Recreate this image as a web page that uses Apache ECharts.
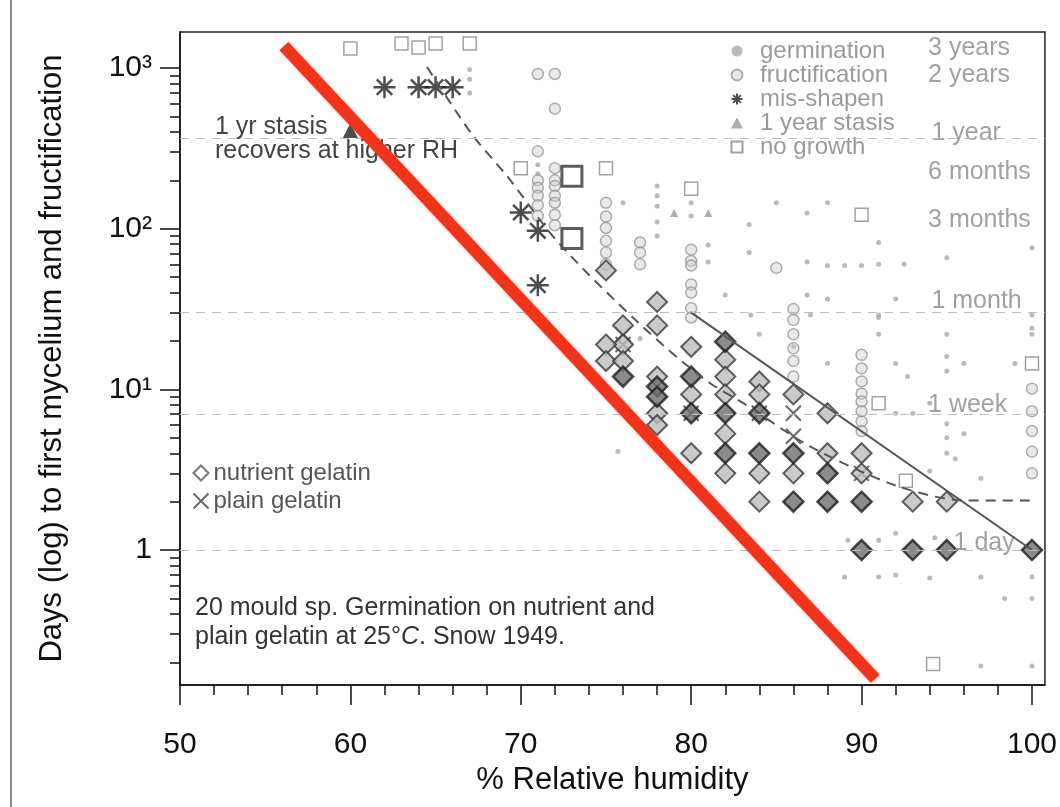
<!DOCTYPE html>
<html>
<head>
<meta charset="utf-8">
<title>Mould germination vs relative humidity</title>
<script src="https://cdn.jsdelivr.net/npm/echarts@6.0.0/dist/echarts.min.js"></script>
<style>
  html, body { margin: 0; padding: 0; background: #fff; }
  #chart { width: 1060px; height: 807px; }
</style>
</head>
<body>
<div id="chart"></div>
<script>
  // [RH %, days]
  var germination = [
    [67, 980], [67, 850], [67, 700], [71, 250], [71, 220],
    [76, 145], [83.4, 106], [85, 145], [86.8, 125], [88, 145], [91, 82],
    [86.8, 62], [88, 59], [89, 59], [90, 59], [91, 60], [92.5, 60], [95, 66], [100, 76],
    [83.4, 71], [81, 79], [81, 62], [82, 38.6], [86.8, 38.6], [88, 36.5], [92, 36.5],
    [83.5, 29], [87, 29], [91, 29], [84, 22], [86, 18.5], [88, 14.5], [91, 22], [77, 20.7],
    [91, 28], [95, 22], [95, 16], [95, 13], [96, 14.5], [92, 14.5], [92.7, 12],
    [92, 7.1], [93, 7.1], [94, 8.2], [95, 6.1], [95, 5], [95, 4], [96, 5.3], [95.5, 3.7],
    [97, 2.8], [94, 3.1], [89.2, 1.15], [91, 1.15], [92, 1.27], [94.3, 1.19],
    [89, 0.68], [91, 0.68], [92, 0.7], [94, 0.67], [97, 0.68], [100, 0.68],
    [98.4, 0.5], [100, 0.5], [97, 0.19], [100, 0.19],
    [100, 29], [100, 24], [100, 22], [99, 14.5],
    [78, 184], [78, 160], [78, 138], [78, 110], [78, 90], [80, 145], [80, 120], [75.7, 4.1]
  ];
  var fructification = [
    [71, 918], [72, 918], [72, 558], [71, 303],
    [71, 200], [71, 180], [71, 160], [71, 140], [71, 120],
    [72, 238], [72, 200], [72, 184], [72, 160], [72, 145], [72, 122], [72, 105],
    [75, 145], [75, 119], [75, 101], [75, 84], [75, 71], [75, 60],
    [77, 82], [77, 71], [77, 60],
    [80, 74], [80, 63], [80, 59], [80, 45], [80, 40], [80, 32], [80, 28],
    [85, 57], [86, 31.6], [86, 27], [86, 22], [86, 18], [86, 15], [86, 12],
    [90, 16.4], [90, 13.5], [90, 11.2], [90, 9.4], [90, 8.4], [90, 7.3], [90, 6.3], [90, 5.5],
    [100, 10.1], [100, 7.3], [100, 5.5], [100, 4.1], [100, 3]
  ];
  var misShapen = [[62, 760], [64, 760], [65, 760], [66, 760], [70, 126], [71, 97], [71, 44.5]];
  var stasis = [[79, 125], [81, 125]];
  var stasisRecovered = [60, 408];
  var noGrowth = [
    [60, 1320], [63, 1420], [64, 1340], [65, 1420], [67, 1420], [70, 238], [75, 238],
    [80, 177], [90, 122], [91, 8.2], [92.6, 2.7], [94.2, 0.195], [100, 14.5]
  ];
  var noGrowthMany = [[73, 212], [73, 87]];
  var nutrient = [
    [75, 55], [78, 35], [78, 25], [76, 25], [76, 19], [75, 19], [75, 15], [76, 15], [78, 12],
    [78, 7.1], [78, 6], [80, 18.4], [80, 9.3], [80, 4], [82, 15.3], [82, 12], [82, 9.3],
    [82, 5.3], [82, 3], [84, 11.2], [84, 9.3], [84, 3], [84, 2], [86, 9.3], [86, 3],
    [88, 7.1], [88, 4], [90, 4], [90, 3], [93, 2], [95, 2]
  ];
  var nutrientMany = [
    [76, 12], [78, 10.4], [78, 9], [80, 12], [80, 7.1], [82, 19.8], [82, 7.1], [82, 4],
    [84, 7.1], [84, 4], [86, 4], [86, 2], [88, 3], [88, 2], [90, 2], [90, 1],
    [93, 1], [95, 1], [100, 1]
  ];
  var plain = [[76, 22], [86, 7.1], [86, 5.1], [76, 19], [80, 7.1], [84, 7.1], [90, 3]];
  var fitSolid = [[80, 30], [100, 1]];
  var fitDashed = [
    [64.5, 1014], [67.1, 391], [69.2, 212], [72.2, 82], [76.9, 26], [80.7, 11.7],
    [83.3, 7.9], [87, 4.4], [92.1, 2.5], [96.2, 2.03], [100, 2.03]
  ];
  var redLine = [[56.1, 1368], [90.8, 0.158]];

  var refDays = [365, 30, 7, 1];
  var durNames = ['3 years', '2 years', '1 year', '6 months', '3 months', '1 month', '1 week', '1 day'];
  var durDays = [1095, 730, 365, 182, 91, 30, 7, 1];
  var durX = [93.9, 93.9, 94.1, 93.9, 93.9, 94.1, 93.9, 95.4];
  // how far each duration label sits above its own level (px)
  var durLift = [-14, -15, -5, -15, -15, -12, -9, -7];

  var xMajor = [50, 60, 70, 80, 90, 100];
  var xMinor = [52, 54, 56, 58, 62, 64, 66, 68, 72, 74, 76, 78, 82, 84, 86, 88, 92, 94, 96, 98];
  var yMajor = [1, 10, 100, 1000];
  var yTickText = ['1', '10¹', '10²', '10³'];
  var yMinor = [0.2, 0.3, 0.4, 0.5, 0.6, 0.7, 0.8, 0.9, 2, 3, 4, 5, 6, 7, 8, 9,
    20, 30, 40, 50, 60, 70, 80, 90, 200, 300, 400, 500, 600, 700, 800, 900];

  var font = 'Liberation Sans, Arial, Helvetica, sans-serif';
  var crossPath = 'path://M0,0L10,10M10,0L0,10';
  var starPath = 'path://M5,0L5,10M0,5L10,5M1.5,1.5L8.5,8.5M8.5,1.5L1.5,8.5';
  var squarePath = 'path://M0,0L10,0L10,10L0,10Z';
  var trianglePath = 'path://M5,0L10,9L0,9Z';

  var chart = echarts.init(document.getElementById('chart'));
  chart.setOption({
    animation: false,
    textStyle: { fontFamily: font },
    grid: {
      left: 180, right: 12, top: 32, bottom: 122,
      show: true, borderColor: '#222', borderWidth: 1.5
    },
    legend: [{
      data: [
        { name: 'germination', icon: 'circle' },
        { name: 'fructification', icon: 'circle' },
        { name: 'mis-shapen' },
        { name: '1 year stasis', icon: trianglePath },
        { name: 'no growth', icon: squarePath }
      ],
      orient: 'vertical', left: 724, top: 34,
      itemWidth: 36, itemHeight: 11, itemGap: 0,
      symbolKeepAspect: true,
      selectedMode: false,
      textStyle: { color: '#9a9a9a', fontSize: 24, fontFamily: font }
    }, {
      data: [
        { name: 'nutrient gelatin', icon: 'diamond', itemStyle: { color: '#fff', borderColor: '#555', borderWidth: 2 } },
        'plain gelatin'
      ],
      orient: 'vertical', left: 186, top: 456,
      itemWidth: 15, itemHeight: 15, itemGap: 4,
      selectedMode: false,
      textStyle: { color: '#555', fontSize: 24, fontFamily: font }
    }],
    xAxis: [{
      type: 'value', min: 50, max: 100.76, position: 'bottom',
      axisLine: { show: true, lineStyle: { color: '#111', width: 1.5 } },
      axisTick: { show: true, length: 20, customValues: xMajor, lineStyle: { color: '#111', width: 1.5 } },
      axisLabel: { customValues: xMajor, margin: 45, fontSize: 30, color: '#111' },
      splitLine: { show: false },
      name: '% Relative humidity', nameLocation: 'middle', nameGap: 76,
      nameTextStyle: { fontSize: 31, color: '#111' }
    }, {
      type: 'value', min: 50, max: 100.76, position: 'bottom',
      axisLine: { show: false },
      axisTick: { show: true, length: 10, customValues: xMinor, lineStyle: { color: '#111', width: 1.5 } },
      axisLabel: { show: false },
      splitLine: { show: false }
    }],
    yAxis: [{
      type: 'log', min: 0.1445, max: 1675, position: 'left',
      axisLine: { show: true, lineStyle: { color: '#111', width: 1.5 } },
      axisTick: { show: true, length: 20, customValues: yMajor, lineStyle: { color: '#111', width: 1.5 } },
      axisLabel: {
        customValues: yMajor, margin: 28, fontSize: 30, color: '#111',
        formatter: function (v) {
          var best = 0;
          yMajor.forEach(function (m, i) {
            if (Math.abs(Math.log10(m) - Math.log10(v)) < Math.abs(Math.log10(yMajor[best]) - Math.log10(v))) best = i;
          });
          return yTickText[best];
        }
      },
      splitLine: { show: false },
      name: 'Days (log) to first mycelium and fructification',
      nameLocation: 'middle', nameRotate: 90, nameGap: 112,
      nameTextStyle: { fontSize: 31, color: '#111' }
    }, {
      type: 'log', min: 0.1445, max: 1675, position: 'left',
      axisLine: { show: false },
      axisTick: { show: true, length: 10, customValues: yMinor, lineStyle: { color: '#111', width: 1.5 } },
      axisLabel: { show: false },
      splitLine: { show: false }
    }],
    graphic: [
      { type: 'line', shape: { x1: 11, y1: 0, x2: 11, y2: 807 }, style: { stroke: '#666', lineWidth: 1.5 } },
      { type: 'text', x: 215, y: 127, style: { text: '1 yr stasis', fontSize: 25, fontFamily: font, fill: '#444', verticalAlign: 'middle' } },
      { type: 'text', x: 215, y: 151, style: { text: 'recovers at higher RH', fontSize: 25, fontFamily: font, fill: '#444', verticalAlign: 'middle' } },
      { type: 'text', x: 195, y: 608, style: { text: '20 mould sp. Germination on nutrient and', fontSize: 25, fontFamily: font, fill: '#333', verticalAlign: 'middle' } },
      { type: 'text', x: 195, y: 637, style: {
          text: '{n|plain gelatin at 25°}{i|C}{n|. Snow 1949.}', verticalAlign: 'middle',
          rich: {
            n: { fontSize: 25, fontFamily: font, fill: '#333' },
            i: { fontSize: 25, fontFamily: font, fill: '#333', fontStyle: 'italic' }
          }
        } }
    ],
    series: [{
      name: 'germination', type: 'scatter', data: germination,
      symbol: 'circle', symbolSize: 5,
      itemStyle: { color: '#a9a9a9' },
      markLine: {
        silent: true, symbol: ['none', 'none'],
        label: { show: false },
        lineStyle: { color: '#bdbdbd', type: [9, 7], width: 1.2 },
        data: refDays.map(function (d) { return { yAxis: d }; })
      }
    }, {
      name: 'fructification', type: 'scatter', data: fructification,
      symbol: 'circle', symbolSize: 11,
      itemStyle: { color: 'rgba(205,205,205,0.55)', borderColor: '#9a9a9a', borderWidth: 1.5 }
    }, {
      name: '1 year stasis', type: 'scatter',
      data: stasis.concat([{ value: stasisRecovered, symbolSize: 15, itemStyle: { color: '#222' } }]),
      symbol: 'triangle', symbolSize: 8,
      itemStyle: { color: '#9a9a9a' }
    }, {
      name: 'no growth', type: 'scatter', data: noGrowth,
      symbol: 'rect', symbolSize: 13,
      itemStyle: { color: '#fff', borderColor: '#8a8a8a', borderWidth: 1.5 }
    }, {
      name: 'no growth', type: 'scatter', data: noGrowthMany,
      symbol: 'rect', symbolSize: 20,
      itemStyle: { color: '#fff', borderColor: '#333', borderWidth: 3 }
    }, {
      name: 'mis-shapen', type: 'scatter', data: misShapen,
      symbol: starPath, symbolSize: 22,
      itemStyle: { color: 'none', borderColor: '#222', borderWidth: 2.5 }
    }, {
      name: 'plain gelatin', type: 'scatter', data: plain,
      symbol: crossPath, symbolSize: 15,
      itemStyle: { color: 'none', borderColor: '#444', borderWidth: 2 }
    }, {
      name: 'nutrient gelatin', type: 'scatter', data: nutrient,
      symbol: 'diamond', symbolSize: 20,
      itemStyle: { color: '#bdbdbd', borderColor: '#3a3a3a', borderWidth: 2 }
    }, {
      name: 'nutrient gelatin', type: 'scatter', data: nutrientMany,
      symbol: 'diamond', symbolSize: 20,
      itemStyle: { color: '#6e6e6e', borderColor: '#1e1e1e', borderWidth: 2.5 }
    }, {
      name: 'fit', type: 'line', data: fitSolid, symbol: 'none',
      lineStyle: { color: '#555', width: 2 }
    }, {
      name: 'fit dashed', type: 'line', data: fitDashed, symbol: 'none', smooth: 0.3,
      lineStyle: { color: '#555', width: 2, type: [10, 7] }
    }, {
      name: 'durations', type: 'scatter', symbolSize: 0, silent: true,
      data: durNames.map(function (n, i) {
        return { name: n, value: [durX[i], durDays[i]], label: { offset: [0, durLift[i]] } };
      }),
      label: {
        show: true, position: 'right', distance: 0,
        formatter: '{b}', fontSize: 25, color: '#8a8a8a', fontFamily: font
      }
    }, {
      name: 'red', type: 'line', data: redLine, symbol: 'none', z: 10,
      lineStyle: { color: '#f0341c', width: 12, cap: 'butt', shadowBlur: 3, shadowColor: 'rgba(240,52,28,0.5)' }
    }]
  });
</script>
</body>
</html>
